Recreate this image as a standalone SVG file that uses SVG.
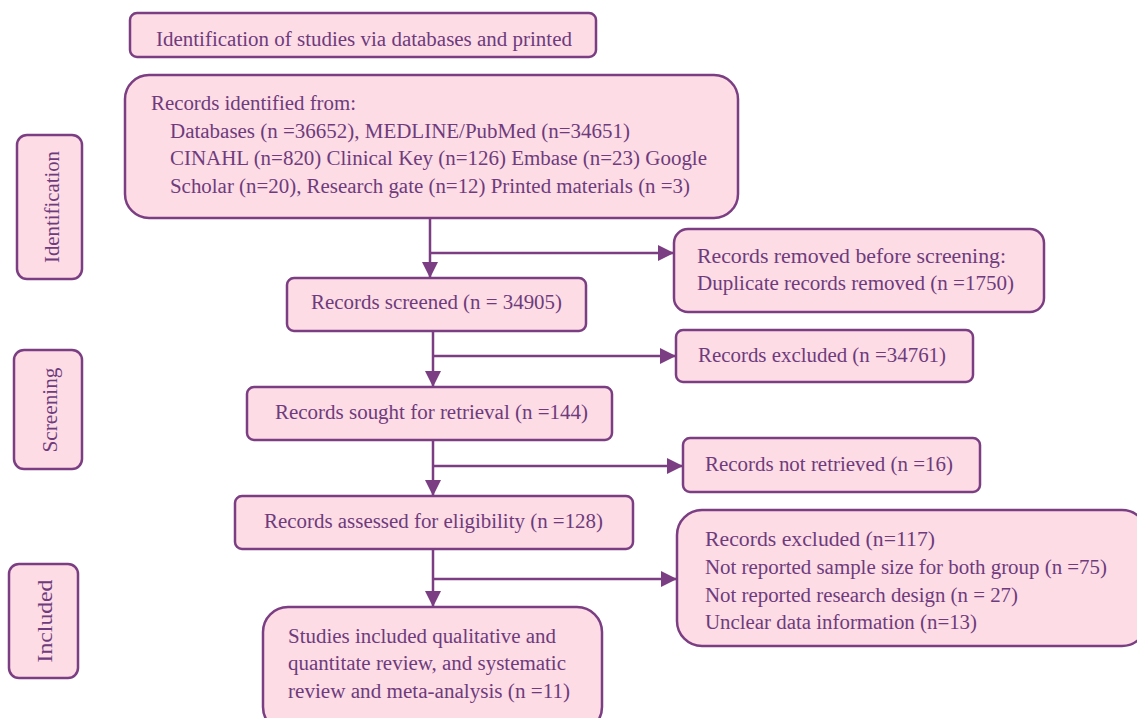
<svg xmlns="http://www.w3.org/2000/svg" width="1137" height="718" viewBox="0 0 1137 718">
<style>
.box{fill:#fddce6;stroke:#7b3e82;stroke-width:2.5}
.t{font-family:"Liberation Serif","Times New Roman",serif;font-size:20px;fill:#6e3b7c}
.s{font-size:21px}
.c{stroke:#7b3e82;stroke-width:2.5;fill:none}
</style>
<defs>
<marker id="ah2" markerWidth="16" markerHeight="16" refX="15" refY="8" orient="auto" markerUnits="userSpaceOnUse" viewBox="0 0 16 16">
<path d="M0,0 L16,8 L0,16 z" fill="#7b3e82"/>
</marker>
</defs>
<rect width="1137" height="718" fill="#ffffff"/>
<g id="phase-identification"><rect class="box" x="17" y="135" width="65" height="144" rx="10"/><text class="t s" transform="translate(59,207) rotate(-90)" text-anchor="middle" textLength="112" lengthAdjust="spacingAndGlyphs">Identification</text></g>
<g id="phase-screening"><rect class="box" x="14" y="350" width="68" height="119" rx="10"/><text class="t s" transform="translate(57,410) rotate(-90)" text-anchor="middle" textLength="85" lengthAdjust="spacingAndGlyphs">Screening</text></g>
<g id="phase-included"><rect class="box" x="9" y="564" width="69" height="114" rx="10"/><text class="t s" transform="translate(52,621) rotate(-90)" text-anchor="middle" textLength="83" lengthAdjust="spacingAndGlyphs">Included</text></g>
<g id="title"><rect class="box" x="130" y="13" width="466" height="44" rx="7"/><text class="t" x="156" y="46" textLength="416" lengthAdjust="spacingAndGlyphs">Identification of studies via databases and printed</text></g>
<g id="identified"><rect class="box" x="125" y="75" width="613" height="143" rx="24"/>
<text class="t" x="151" y="110" textLength="205" lengthAdjust="spacingAndGlyphs">Records identified from:</text>
<text class="t" x="170" y="138" textLength="460" lengthAdjust="spacingAndGlyphs">Databases (n =36652), MEDLINE/PubMed (n=34651)</text>
<text class="t" x="170" y="165" textLength="537" lengthAdjust="spacingAndGlyphs">CINAHL (n=820) Clinical Key (n=126) Embase (n=23) Google</text>
<text class="t" x="170" y="193" textLength="520" lengthAdjust="spacingAndGlyphs">Scholar (n=20), Research gate (n=12) Printed materials (n =3)</text></g>
<g id="removed"><rect class="box" x="674" y="229" width="370" height="83" rx="14"/>
<text class="t" x="697" y="263" textLength="309" lengthAdjust="spacingAndGlyphs">Records removed before screening:</text>
<text class="t" x="697" y="290" textLength="317" lengthAdjust="spacingAndGlyphs">Duplicate records removed (n =1750)</text></g>
<g id="screened"><rect class="box" x="287" y="278" width="299" height="53" rx="7"/><text class="t" x="311" y="309" textLength="251" lengthAdjust="spacingAndGlyphs">Records screened (n = 34905)</text></g>
<g id="excluded1"><rect class="box" x="676" y="330" width="297" height="52" rx="7"/><text class="t" x="698" y="362" textLength="248" lengthAdjust="spacingAndGlyphs">Records excluded (n =34761)</text></g>
<g id="sought"><rect class="box" x="247" y="387" width="365" height="53" rx="7"/><text class="t" x="275" y="419" textLength="313" lengthAdjust="spacingAndGlyphs">Records sought for retrieval (n =144)</text></g>
<g id="notretrieved"><rect class="box" x="683" y="438" width="297" height="54" rx="7"/><text class="t" x="705" y="471" textLength="248" lengthAdjust="spacingAndGlyphs">Records not retrieved (n =16)</text></g>
<g id="assessed"><rect class="box" x="235" y="496" width="398" height="53" rx="7"/><text class="t" x="264" y="528" textLength="339" lengthAdjust="spacingAndGlyphs">Records assessed for eligibility (n =128)</text></g>
<g id="excluded2"><rect class="box" x="677" y="510" width="470" height="136" rx="25"/>
<text class="t" x="705" y="546" textLength="230" lengthAdjust="spacingAndGlyphs">Records excluded (n=117)</text>
<text class="t" x="705" y="574" textLength="402" lengthAdjust="spacingAndGlyphs">Not reported sample size for both group (n =75)</text>
<text class="t" x="705" y="602" textLength="313" lengthAdjust="spacingAndGlyphs">Not reported research design (n = 27)</text>
<text class="t" x="705" y="629" textLength="272" lengthAdjust="spacingAndGlyphs">Unclear data information (n=13)</text></g>
<g id="included"><rect class="box" x="263" y="607" width="339" height="125" rx="25"/>
<text class="t" x="288" y="643" textLength="268" lengthAdjust="spacingAndGlyphs">Studies included qualitative and</text>
<text class="t" x="288" y="670" textLength="278" lengthAdjust="spacingAndGlyphs">quantitate review, and systematic</text>
<text class="t" x="288" y="698" textLength="282" lengthAdjust="spacingAndGlyphs">review and meta-analysis (n =11)</text></g>
<g id="connectors">
<path class="c" d="M430,218 V277" marker-end="url(#ah2)"/>
<path class="c" d="M430,253 H673" marker-end="url(#ah2)"/>
<path class="c" d="M433,331 V386" marker-end="url(#ah2)"/>
<path class="c" d="M433,356 H675" marker-end="url(#ah2)"/>
<path class="c" d="M433,440 V495" marker-end="url(#ah2)"/>
<path class="c" d="M433,466 H682" marker-end="url(#ah2)"/>
<path class="c" d="M433,549 V606" marker-end="url(#ah2)"/>
<path class="c" d="M433,579 H676" marker-end="url(#ah2)"/>
</g>
</svg>
